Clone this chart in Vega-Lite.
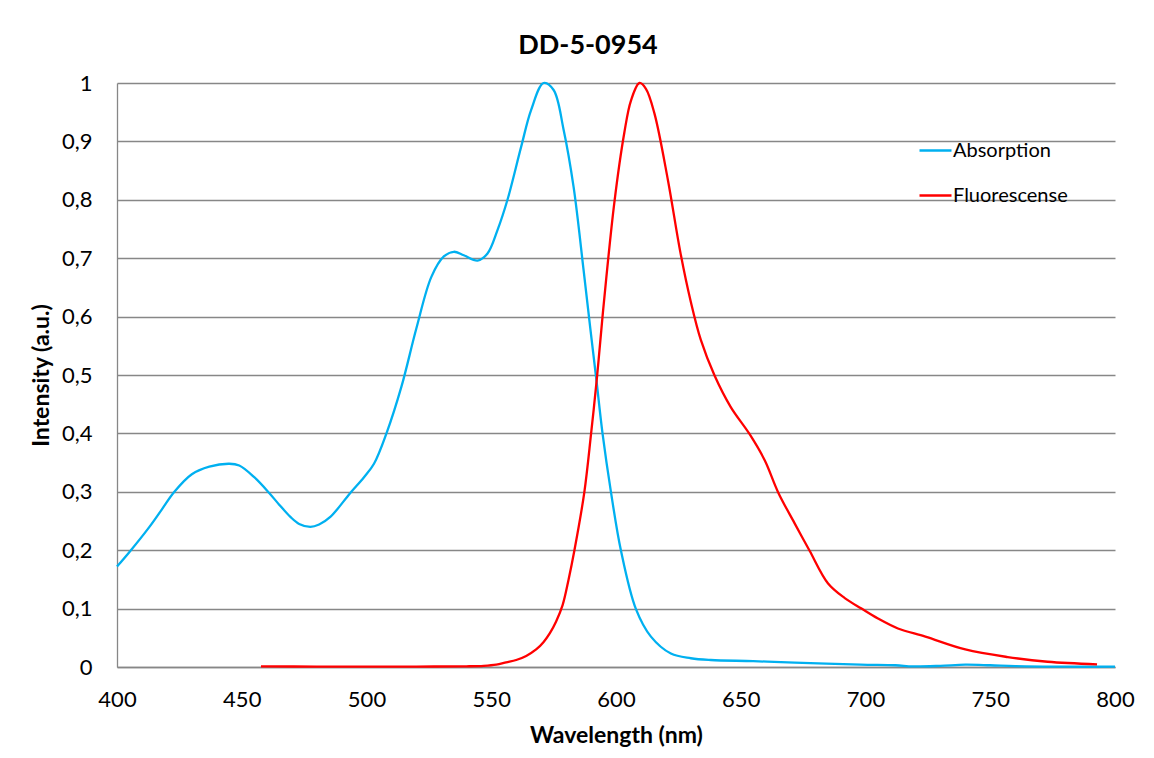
{
  "$schema": "https://vega.github.io/schema/vega-lite/v6.json",
  "width": 998,
  "height": 584,
  "autosize": {"type": "none"},
  "padding": {"left": 117, "top": 83, "right": 39, "bottom": 91},
  "background": "white",
  "title": {"text": "DD-5-0954", "font": "Lato", "fontSize": 27, "fontWeight": "bold", "color": "black", "anchor": "middle", "frame": "group", "baseline": "alphabetic", "offset": 30, "dx": -28, "dy": 39},
  "config": {
    "view": {"stroke": null},
    "axis": {"labelFont": "Lato", "titleFont": "Lato", "labelColor": "black", "titleColor": "black", "domainColor": "#878787", "domainWidth": 1.3, "gridColor": "#878787", "gridWidth": 1.3, "gridOpacity": 1, "ticks": false, "labelFlush": false, "labelOverlap": false}
  },
  "data": {"values": [
    {"series": "Absorption", "wl": 400, "val": 0.172},
    {"series": "Absorption", "wl": 405, "val": 0.197},
    {"series": "Absorption", "wl": 413, "val": 0.240},
    {"series": "Absorption", "wl": 418, "val": 0.270},
    {"series": "Absorption", "wl": 423, "val": 0.300},
    {"series": "Absorption", "wl": 430, "val": 0.330},
    {"series": "Absorption", "wl": 437, "val": 0.343},
    {"series": "Absorption", "wl": 445, "val": 0.348},
    {"series": "Absorption", "wl": 449, "val": 0.345},
    {"series": "Absorption", "wl": 455, "val": 0.325},
    {"series": "Absorption", "wl": 461, "val": 0.298},
    {"series": "Absorption", "wl": 465, "val": 0.278},
    {"series": "Absorption", "wl": 469.5, "val": 0.257},
    {"series": "Absorption", "wl": 473, "val": 0.245},
    {"series": "Absorption", "wl": 477.5, "val": 0.240},
    {"series": "Absorption", "wl": 481, "val": 0.244},
    {"series": "Absorption", "wl": 485.5, "val": 0.257},
    {"series": "Absorption", "wl": 493.5, "val": 0.298},
    {"series": "Absorption", "wl": 499, "val": 0.325},
    {"series": "Absorption", "wl": 503, "val": 0.348},
    {"series": "Absorption", "wl": 508, "val": 0.400},
    {"series": "Absorption", "wl": 514, "val": 0.480},
    {"series": "Absorption", "wl": 520, "val": 0.580},
    {"series": "Absorption", "wl": 526, "val": 0.668},
    {"series": "Absorption", "wl": 531, "val": 0.703},
    {"series": "Absorption", "wl": 535, "val": 0.711},
    {"series": "Absorption", "wl": 539, "val": 0.705},
    {"series": "Absorption", "wl": 544.5, "val": 0.696},
    {"series": "Absorption", "wl": 548.5, "val": 0.708},
    {"series": "Absorption", "wl": 552.5, "val": 0.748},
    {"series": "Absorption", "wl": 556.5, "val": 0.800},
    {"series": "Absorption", "wl": 562, "val": 0.891},
    {"series": "Absorption", "wl": 566, "val": 0.954},
    {"series": "Absorption", "wl": 571, "val": 1.0},
    {"series": "Absorption", "wl": 575, "val": 0.988},
    {"series": "Absorption", "wl": 579, "val": 0.920},
    {"series": "Absorption", "wl": 583, "val": 0.822},
    {"series": "Absorption", "wl": 587, "val": 0.680},
    {"series": "Absorption", "wl": 589.7, "val": 0.580},
    {"series": "Absorption", "wl": 592, "val": 0.497},
    {"series": "Absorption", "wl": 594.6, "val": 0.400},
    {"series": "Absorption", "wl": 598, "val": 0.299},
    {"series": "Absorption", "wl": 602, "val": 0.199},
    {"series": "Absorption", "wl": 608, "val": 0.099},
    {"series": "Absorption", "wl": 614, "val": 0.052},
    {"series": "Absorption", "wl": 622, "val": 0.023},
    {"series": "Absorption", "wl": 630, "val": 0.015},
    {"series": "Absorption", "wl": 638, "val": 0.012},
    {"series": "Absorption", "wl": 655, "val": 0.010},
    {"series": "Absorption", "wl": 671.6, "val": 0.0074},
    {"series": "Absorption", "wl": 698, "val": 0.0040},
    {"series": "Absorption", "wl": 712, "val": 0.003},
    {"series": "Absorption", "wl": 719, "val": 0.001},
    {"series": "Absorption", "wl": 730, "val": 0.002},
    {"series": "Absorption", "wl": 740, "val": 0.004},
    {"series": "Absorption", "wl": 750, "val": 0.003},
    {"series": "Absorption", "wl": 760, "val": 0.0015},
    {"series": "Absorption", "wl": 780, "val": 0.0005},
    {"series": "Absorption", "wl": 800, "val": 0.0005},
    {"series": "Fluorescense", "wl": 457.7, "val": 0.001},
    {"series": "Fluorescense", "wl": 480, "val": 0.0008},
    {"series": "Fluorescense", "wl": 500, "val": 0.0006},
    {"series": "Fluorescense", "wl": 520, "val": 0.0008},
    {"series": "Fluorescense", "wl": 540, "val": 0.0012},
    {"series": "Fluorescense", "wl": 547, "val": 0.002},
    {"series": "Fluorescense", "wl": 552, "val": 0.004},
    {"series": "Fluorescense", "wl": 556, "val": 0.008},
    {"series": "Fluorescense", "wl": 560, "val": 0.012},
    {"series": "Fluorescense", "wl": 564, "val": 0.019},
    {"series": "Fluorescense", "wl": 568, "val": 0.030},
    {"series": "Fluorescense", "wl": 571, "val": 0.043},
    {"series": "Fluorescense", "wl": 573.5, "val": 0.058},
    {"series": "Fluorescense", "wl": 576, "val": 0.078},
    {"series": "Fluorescense", "wl": 578.6, "val": 0.106},
    {"series": "Fluorescense", "wl": 581, "val": 0.150},
    {"series": "Fluorescense", "wl": 583.3, "val": 0.199},
    {"series": "Fluorescense", "wl": 587.3, "val": 0.299},
    {"series": "Fluorescense", "wl": 590, "val": 0.399},
    {"series": "Fluorescense", "wl": 592.4, "val": 0.497},
    {"series": "Fluorescense", "wl": 594.6, "val": 0.600},
    {"series": "Fluorescense", "wl": 599.3, "val": 0.794},
    {"series": "Fluorescense", "wl": 603.3, "val": 0.914},
    {"series": "Fluorescense", "wl": 606, "val": 0.970},
    {"series": "Fluorescense", "wl": 609.4, "val": 1.0},
    {"series": "Fluorescense", "wl": 612, "val": 0.990},
    {"series": "Fluorescense", "wl": 615.4, "val": 0.948},
    {"series": "Fluorescense", "wl": 620.8, "val": 0.834},
    {"series": "Fluorescense", "wl": 625.8, "val": 0.710},
    {"series": "Fluorescense", "wl": 630, "val": 0.625},
    {"series": "Fluorescense", "wl": 634, "val": 0.560},
    {"series": "Fluorescense", "wl": 639.5, "val": 0.499},
    {"series": "Fluorescense", "wl": 646, "val": 0.445},
    {"series": "Fluorescense", "wl": 653.5, "val": 0.399},
    {"series": "Fluorescense", "wl": 659.6, "val": 0.354},
    {"series": "Fluorescense", "wl": 665, "val": 0.299},
    {"series": "Fluorescense", "wl": 671.6, "val": 0.246},
    {"series": "Fluorescense", "wl": 677.6, "val": 0.199},
    {"series": "Fluorescense", "wl": 685, "val": 0.143},
    {"series": "Fluorescense", "wl": 691.7, "val": 0.118},
    {"series": "Fluorescense", "wl": 698.4, "val": 0.100},
    {"series": "Fluorescense", "wl": 705, "val": 0.083},
    {"series": "Fluorescense", "wl": 713, "val": 0.066},
    {"series": "Fluorescense", "wl": 724, "val": 0.052},
    {"series": "Fluorescense", "wl": 740, "val": 0.030},
    {"series": "Fluorescense", "wl": 757, "val": 0.017},
    {"series": "Fluorescense", "wl": 773, "val": 0.009},
    {"series": "Fluorescense", "wl": 792.8, "val": 0.0046}
  ]},
  "mark": {"type": "line", "interpolate": "catmull-rom", "strokeWidth": 2.3},
  "encoding": {
    "x": {
      "field": "wl", "type": "quantitative",
      "scale": {"domain": [400, 800], "nice": false, "zero": false},
      "axis": {"values": [400, 450, 500, 550, 600, 650, 700, 750, 800], "format": "d", "title": "Wavelength (nm)", "grid": false, "labelFontSize": 22, "labelPadding": 22, "titleFontSize": 23, "titleFontWeight": "bold", "titlePadding": 14}
    },
    "y": {
      "field": "val", "type": "quantitative",
      "scale": {"domain": [0, 1], "nice": false},
      "axis": {"values": [0, 0.1, 0.2, 0.3, 0.4, 0.5, 0.6, 0.7, 0.8, 0.9, 1], "labelExpr": "replace(format(datum.value, '~g'), '.', ',')", "title": "Intensity (a.u.)", "grid": true, "labelFontSize": 22, "labelPadding": 25, "titleFontSize": 23, "titleFontWeight": "bold", "titlePadding": 8}
    },
    "color": {
      "field": "series", "type": "nominal",
      "scale": {"domain": ["Absorption", "Fluorescense"], "range": ["#00B0F0", "#FF0000"]},
      "legend": {"title": null, "orient": "none", "legendX": 801, "legendY": 50, "padding": 0, "symbolType": "stroke", "symbolSize": 1024, "symbolStrokeWidth": 2.3, "labelOffset": 0, "rowPadding": 17, "labelFont": "Lato", "labelFontSize": 20, "labelColor": "black"}
    }
  }
}
